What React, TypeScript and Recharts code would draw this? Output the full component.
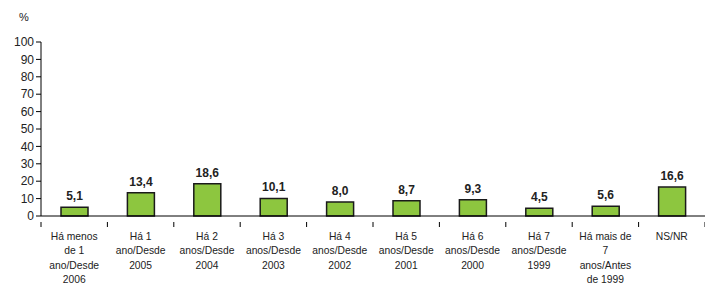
import { Bar, BarChart, LabelList, XAxis, YAxis } from "recharts";

const categories = [
  "Há menos\nde 1\nano/Desde\n2006",
  "Há 1\nano/Desde\n2005",
  "Há 2\nanos/Desde\n2004",
  "Há 3\nanos/Desde\n2003",
  "Há 4\nanos/Desde\n2002",
  "Há 5\nanos/Desde\n2001",
  "Há 6\nanos/Desde\n2000",
  "Há 7\nanos/Desde\n1999",
  "Há mais de\n7\nanos/Antes\nde 1999",
  "NS/NR",
];
const values = [5.1, 13.4, 18.6, 10.1, 8.0, 8.7, 9.3, 4.5, 5.6, 16.6];
const yTicks = [0, 10, 20, 30, 40, 50, 60, 70, 80, 90, 100];

const data = categories.map((c, i) => ({ name: c, value: values[i] }));

const FONT = "'Liberation Sans', Arial, sans-serif";
const BAND = 664 / categories.length;

function CategoryTick(props: any) {
  const { x, y, payload, index } = props;
  const lines = String(payload.value).split("\n");
  return (
    <g>
      {index === 0 && (
        <line x1={x - BAND / 2} x2={x - BAND / 2} y1={y - 2} y2={y + 3} stroke="#000" />
      )}
      <line x1={x + BAND / 2} x2={x + BAND / 2} y1={y - 2} y2={y + 3} stroke="#000" />
      <text x={x} y={y + 15.5} textAnchor="middle" fontSize={10.3} fill="#222" fontFamily={FONT}>
        {lines.map((l, i) => (
          <tspan key={i} x={x} dy={i === 0 ? 0 : 14.6}>
            {l}
          </tspan>
        ))}
      </text>
    </g>
  );
}

export default function App() {
  return (
    <div style={{ position: "relative", width: 705, height: 285, fontFamily: FONT }}>
      <style>{"html,body{margin:0;padding:0;overflow:hidden}"}</style>
      <BarChart
        width={705}
        height={285}
        data={data}
        margin={{ top: 42, right: 0, bottom: 0, left: 0 }}
        barCategoryGap={0}
      >
        <XAxis
          dataKey="name"
          interval={0}
          height={69}
          tickLine={false}
          axisLine={{ stroke: "#000" }}
          tick={<CategoryTick />}
        />
        <YAxis
          width={41}
          domain={[0, 100]}
          ticks={yTicks}
          interval={0}
          tickSize={5}
          tickLine={{ stroke: "#000" }}
          axisLine={{ stroke: "#000" }}
          tick={{ fill: "#222", fontSize: 12, fontFamily: FONT }}
        />
        <Bar dataKey="value" fill="#8DC63F" stroke="#1a1a1a" strokeWidth={1.5} barSize={27} isAnimationActive={false}>
          <LabelList
            dataKey="value"
            position="top"
            offset={7}
            formatter={(v: any) => Number(v).toFixed(1).replace(".", ",")}
            style={{ fontWeight: "bold", fontSize: 12, fill: "#222", fontFamily: FONT }}
          />
        </Bar>
      </BarChart>
      <div style={{ position: "absolute", left: 19, top: 11, fontSize: 11, color: "#222" }}>%</div>
    </div>
  );
}
